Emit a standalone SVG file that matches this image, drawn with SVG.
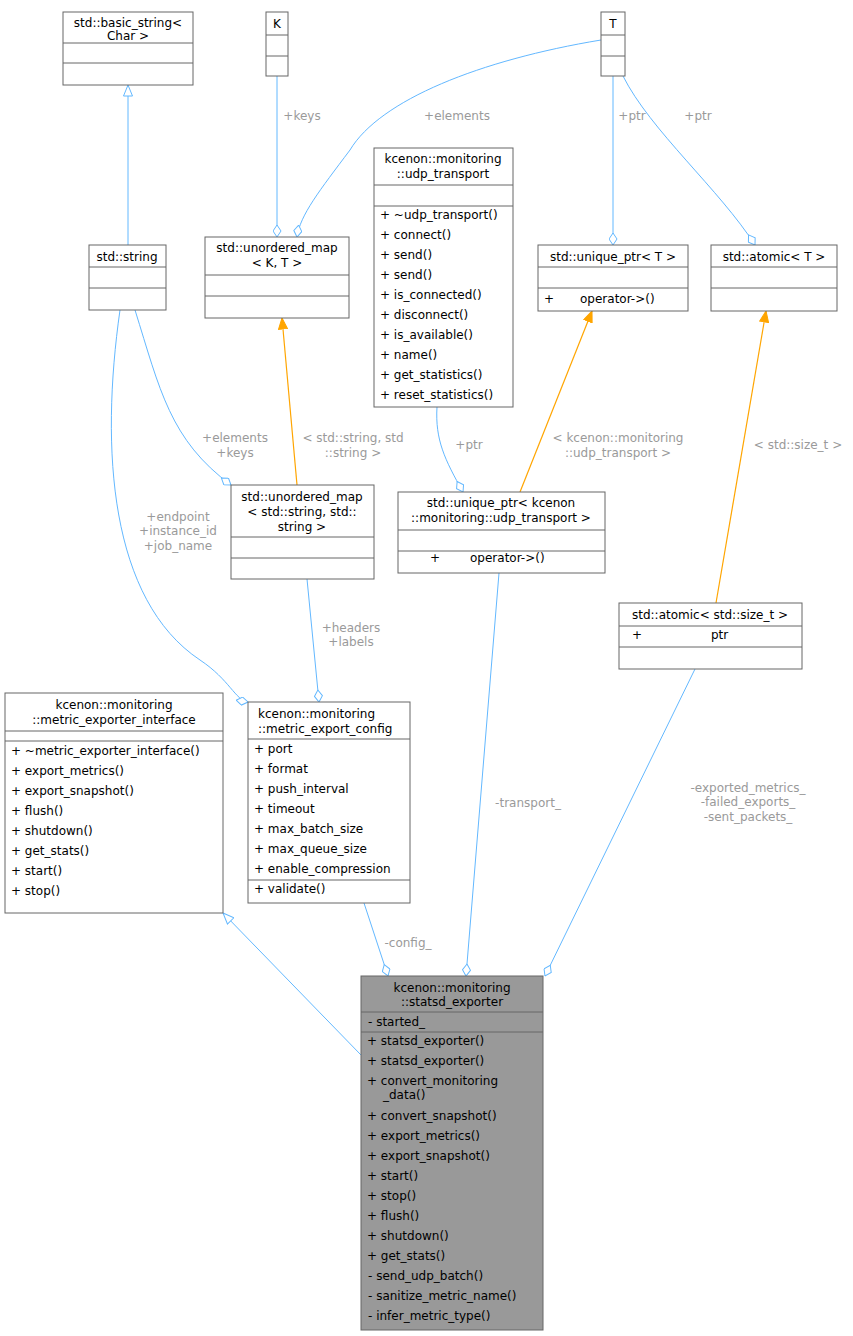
<svg xmlns="http://www.w3.org/2000/svg" width="853" height="1336" viewBox="0 0 853 1336">
<style>
text{font-family:"DejaVu Sans","Liberation Sans",sans-serif;font-size:12px;fill:#000}
.n rect{fill:#fff;stroke:#666;stroke-width:1}
.n line{stroke:#666;stroke-width:1}
.c{text-anchor:middle}
.lb{fill:#9a9a9a;text-anchor:middle}
.e{fill:none;stroke:#63b8ff;stroke-width:1}
.o{fill:none;stroke:#ffa500;stroke-width:1.2}
</style>
<defs>
<marker id="dm" viewBox="0 0 13 9" refX="12.5" refY="4.5" markerWidth="13" markerHeight="9" markerUnits="userSpaceOnUse" orient="auto"><path d="M0.5,4.5 L6.5,0.5 L12.5,4.5 L6.5,8.5 Z" fill="#fff" stroke="#63b8ff"/></marker>
<marker id="tri" viewBox="0 0 12 10" refX="11.5" refY="5" markerWidth="12" markerHeight="10" markerUnits="userSpaceOnUse" orient="auto"><path d="M0.5,0.5 L11.5,5 L0.5,9.5 Z" fill="#fff" stroke="#63b8ff"/></marker>
<marker id="ar" viewBox="0 0 12 10" refX="11.5" refY="5" markerWidth="12" markerHeight="10" markerUnits="userSpaceOnUse" orient="auto"><path d="M0.5,0.5 L11.5,5 L0.5,9.5 Z" fill="#ffa500" stroke="#ffa500"/></marker>
</defs>
<g id="edges">
<path class="e" d="M128,245 L128,85" marker-end="url(#tri)"/>
<path class="e" d="M277,76 L277,237" marker-end="url(#dm)"/>
<path class="e" d="M601,40 C480,60 380,100 350,150 C320,190 300,215 297,237" marker-end="url(#dm)"/>
<path class="e" d="M613,76 L613,245" marker-end="url(#dm)"/>
<path class="e" d="M623,76 C650,130 720,190 755,245" marker-end="url(#dm)"/>
<path class="o" d="M297,485 L282,318" marker-end="url(#ar)"/>
<path class="e" d="M135,310 C160,390 170,440 231,485" marker-end="url(#dm)"/>
<path class="e" d="M437,407 C435,440 445,460 463,492" marker-end="url(#dm)"/>
<path class="o" d="M520,492 L592,311" marker-end="url(#ar)"/>
<path class="o" d="M716,603 L766,311" marker-end="url(#ar)"/>
<path class="e" d="M120,310 C100,450 110,600 200,660 C230,680 235,700 248,702" marker-end="url(#dm)"/>
<path class="e" d="M307,579 L319,702" marker-end="url(#dm)"/>
<path class="e" d="M361,1055 L223,913" marker-end="url(#tri)"/>
<path class="e" d="M364,903 L388,976" marker-end="url(#dm)"/>
<path class="e" d="M499,573 L466,976" marker-end="url(#dm)"/>
<path class="e" d="M695,669 L545,976" marker-end="url(#dm)"/>
<text class="lb" x="302" y="120">+keys</text>
<text class="lb" x="457" y="120">+elements</text>
<text class="lb" x="632" y="120">+ptr</text>
<text class="lb" x="698" y="120">+ptr</text>
<text class="lb" x="353" y="442">&lt; std::string, std</text>
<text class="lb" x="353" y="457">::string &gt;</text>
<text class="lb" x="235" y="442">+elements</text>
<text class="lb" x="235" y="457">+keys</text>
<text class="lb" x="469" y="449">+ptr</text>
<text class="lb" x="618" y="442">&lt; kcenon::monitoring</text>
<text class="lb" x="618" y="457">::udp_transport &gt;</text>
<text class="lb" x="798" y="449">&lt; std::size_t &gt;</text>
<text class="lb" x="178" y="521">+endpoint</text>
<text class="lb" x="178" y="535">+instance_id</text>
<text class="lb" x="178" y="550">+job_name</text>
<text class="lb" x="351" y="632">+headers</text>
<text class="lb" x="351" y="646">+labels</text>
<text class="lb" x="408" y="947">-config_</text>
<text class="lb" x="528" y="807">-transport_</text>
<text class="lb" x="748" y="792">-exported_metrics_</text>
<text class="lb" x="748" y="806">-failed_exports_</text>
<text class="lb" x="748" y="821">-sent_packets_</text>
</g>
<g id="basic_string" class="n"><rect x="63" y="12" width="130" height="73"/><line x1="63" y1="43" x2="193" y2="43"/><line x1="63" y1="63" x2="193" y2="63"/>
<text class="c" x="128" y="27">std::basic_string&lt;</text><text class="c" x="128" y="40">Char &gt;</text></g>
<g id="K" class="n"><rect x="266" y="12" width="22" height="64"/><line x1="266" y1="35" x2="288" y2="35"/><line x1="266" y1="56" x2="288" y2="56"/><text class="c" x="277" y="28">K</text></g>
<g id="T" class="n"><rect x="601" y="12" width="24" height="64"/><line x1="601" y1="35" x2="625" y2="35"/><line x1="601" y1="56" x2="625" y2="56"/><text class="c" x="613" y="28">T</text></g>
<g id="string" class="n"><rect x="89" y="245" width="77" height="65"/><line x1="89" y1="267" x2="166" y2="267"/><line x1="89" y1="288" x2="166" y2="288"/><text class="c" x="127" y="261">std::string</text></g>
<g id="umap_KT" class="n"><rect x="205" y="237" width="144" height="81"/><line x1="205" y1="275" x2="349" y2="275"/><line x1="205" y1="296" x2="349" y2="296"/>
<text class="c" x="277" y="252">std::unordered_map</text><text class="c" x="277" y="267">&lt; K, T &gt;</text></g>
<g id="udp_transport" class="n"><rect x="374" y="148" width="139" height="259"/><line x1="374" y1="185" x2="513" y2="185"/><line x1="374" y1="206" x2="513" y2="206"/>
<text class="c" x="443" y="163">kcenon::monitoring</text><text class="c" x="443" y="178">::udp_transport</text>
<text x="380" y="219">+  ~udp_transport()</text><text x="380" y="239">+  connect()</text><text x="380" y="259">+  send()</text><text x="380" y="279">+  send()</text><text x="380" y="299">+  is_connected()</text><text x="380" y="319">+  disconnect()</text><text x="380" y="339">+  is_available()</text><text x="380" y="359">+  name()</text><text x="380" y="379">+  get_statistics()</text><text x="380" y="399">+  reset_statistics()</text></g>
<g id="unique_ptr_T" class="n"><rect x="538" y="245" width="150" height="66"/><line x1="538" y1="267" x2="688" y2="267"/><line x1="538" y1="288" x2="688" y2="288"/>
<text class="c" x="613" y="261">std::unique_ptr&lt; T &gt;</text><text x="544" y="303">+</text><text x="580" y="303">operator-&gt;()</text></g>
<g id="atomic_T" class="n"><rect x="711" y="245" width="126" height="66"/><line x1="711" y1="267" x2="837" y2="267"/><line x1="711" y1="288" x2="837" y2="288"/><text class="c" x="774" y="261">std::atomic&lt; T &gt;</text></g>
<g id="umap_ss" class="n"><rect x="231" y="485" width="143" height="94"/><line x1="231" y1="537" x2="374" y2="537"/><line x1="231" y1="558" x2="374" y2="558"/>
<text class="c" x="302" y="501">std::unordered_map</text><text class="c" x="302" y="516">&lt; std::string, std::</text><text class="c" x="302" y="531">string &gt;</text></g>
<g id="unique_ptr_udp" class="n"><rect x="398" y="492" width="207" height="81"/><line x1="398" y1="530" x2="605" y2="530"/><line x1="398" y1="551" x2="605" y2="551"/>
<text class="c" x="501" y="507">std::unique_ptr&lt; kcenon</text><text class="c" x="501" y="522">::monitoring::udp_transport &gt;</text><text x="430" y="562">+</text><text x="470" y="562">operator-&gt;()</text></g>
<g id="atomic_size" class="n"><rect x="619" y="603" width="183" height="66"/><line x1="619" y1="626" x2="802" y2="626"/><line x1="619" y1="647" x2="802" y2="647"/>
<text class="c" x="710" y="619">std::atomic&lt; std::size_t &gt;</text><text x="632" y="639">+</text><text x="711" y="639">ptr</text></g>
<g id="exporter_interface" class="n"><rect x="5" y="693" width="218" height="220"/><line x1="5" y1="731" x2="223" y2="731"/><line x1="5" y1="741" x2="223" y2="741"/>
<text class="c" x="114" y="709">kcenon::monitoring</text><text class="c" x="114" y="724">::metric_exporter_interface</text>
<text x="11" y="755">+  ~metric_exporter_interface()</text><text x="11" y="775">+  export_metrics()</text><text x="11" y="795">+  export_snapshot()</text><text x="11" y="815">+  flush()</text><text x="11" y="835">+  shutdown()</text><text x="11" y="855">+  get_stats()</text><text x="11" y="875">+  start()</text><text x="11" y="895">+  stop()</text></g>
<g id="export_config" class="n"><rect x="248" y="702" width="162" height="201"/><line x1="248" y1="739" x2="410" y2="739"/><line x1="248" y1="880" x2="410" y2="880"/>
<text x="258" y="718">kcenon::monitoring</text><text x="258" y="733">::metric_export_config</text>
<text x="254" y="753">+  port</text><text x="254" y="773">+  format</text><text x="254" y="793">+  push_interval</text><text x="254" y="813">+  timeout</text><text x="254" y="833">+  max_batch_size</text><text x="254" y="853">+  max_queue_size</text><text x="254" y="873">+  enable_compression</text><text x="254" y="893">+  validate()</text></g>
<g id="statsd_exporter" class="n"><rect x="361" y="976" width="182" height="354" style="fill:#999"/><line x1="361" y1="1012" x2="543" y2="1012"/><line x1="361" y1="1032" x2="543" y2="1032"/>
<text class="c" x="452" y="992">kcenon::monitoring</text><text class="c" x="452" y="1006">::statsd_exporter</text>
<text x="368" y="1026">-  started_</text>
<text x="367" y="1045">+  statsd_exporter()</text><text x="367" y="1065">+  statsd_exporter()</text><text x="367" y="1085">+  convert_monitoring</text><text x="383" y="1099">_data()</text><text x="367" y="1120">+  convert_snapshot()</text><text x="367" y="1140">+  export_metrics()</text><text x="367" y="1160">+  export_snapshot()</text><text x="367" y="1180">+  start()</text><text x="367" y="1200">+  stop()</text><text x="367" y="1220">+  flush()</text><text x="367" y="1240">+  shutdown()</text><text x="367" y="1260">+  get_stats()</text>
<text x="368" y="1280">-  send_udp_batch()</text><text x="368" y="1300">-  sanitize_metric_name()</text><text x="368" y="1320">-  infer_metric_type()</text></g>
</svg>
